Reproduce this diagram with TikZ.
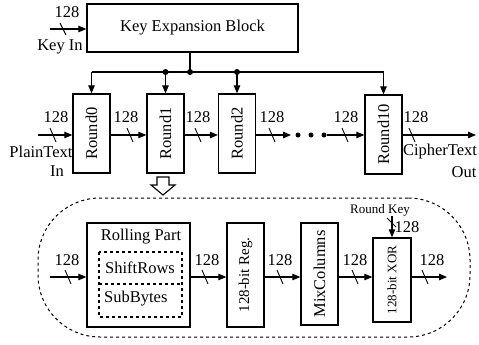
\documentclass[tikz,border=0pt]{standalone}
\usepackage{fontspec}
\setmainfont{Liberation Serif}
\usetikzlibrary{arrows.meta}
\begin{document}
\begin{tikzpicture}[x=1pt,y=-1pt,
  box/.style={draw,line width=1.3pt,inner sep=0pt,font=\fontsize{16.5}{18}\selectfont},
  rbox/.style={box,minimum width=37pt,minimum height=79pt},
  lbl/.style={inner sep=0pt,font=\fontsize{16.5}{18}\selectfont},
  sml/.style={inner sep=0pt,font=\fontsize{13}{15}\selectfont},
  wire/.style={line width=1.1pt},
  arr/.style={wire,-{Triangle[length=8pt,width=6.5pt]}},
  tick/.style={line width=0.9pt},
  dsh/.style={dash pattern=on 3pt off 3pt},
  dot/.style={circle,fill,inner sep=0pt,minimum size=6pt}]
\useasboundingbox (0,0) rectangle (479,345);

% Key expansion
\node[box,minimum width=211pt,minimum height=48pt] (key) at (192.5,28) {Key Expansion Block};
\coordinate (kin) at (50,29);
\draw[arr] (kin) -- (key.west |- kin);
\draw[tick] (60,23) -- (66,35);
\node[lbl] (k128) at (67,12.5) {128};
\node[lbl] (kinl) at (60,47) {Key In};

% rounds
\node[rbox] (r0) at (91.5,133.5) {\rotatebox{90}{Round0}};
\node[rbox] (r1) at (165.5,133.5) {\rotatebox{90}{Round1}};
\node[rbox] (r2) at (237,133.5) {\rotatebox{90}{Round2}};
\node[rbox] (r10) at (383.5,134.5) {\rotatebox{90}{Round10}};

% bus
\coordinate (t) at (190,72);
\coordinate (b0) at (91.5,72);
\coordinate (b10) at (383.5,72);
\draw[wire] (key.south -| t) -- (t);
\draw[wire] (b0) -- (b10);
\draw[arr] (b0) -- (r0.north);
\draw[arr] (r1.north |- t) -- (r1.north);
\draw[arr] (r2.north |- t) -- (r2.north);
\draw[arr] (b10) -- (r10.north);
\node[dot] (d1) at (r1.north |- t) {};
\node[dot] (d2) at (t) {};
\node[dot] (d3) at (r2.north |- t) {};

% main data path
\coordinate (pin) at (38,135);
\draw[arr] (pin) -- (r0.west |- pin);
\draw[tick] (50,128) -- (56,142);
\node[lbl] (p128) at (56,117) {128};
\node[lbl] (pl1) at (41,152) {PlainText};
\node[lbl] (pl2) at (57,171) {In};

\draw[arr] (r0.east |- pin) -- (r1.west |- pin);
\draw[tick] (127,128) -- (133,142);
\node[lbl] (l01) at (126,117) {128};

\draw[arr] (r1.east |- pin) -- (r2.west |- pin);
\draw[tick] (195,128) -- (201,142);
\node[lbl] (l12) at (198,117) {128};

\coordinate (e2) at (291,135);
\draw[arr] (r2.east |- pin) -- (e2);
\draw[tick] (269,128) -- (275,142);
\node[lbl] (l2d) at (272,117) {128};
\node[dot,minimum size=5pt] (dd1) at (298,135) {};
\node[dot,minimum size=5pt] (dd2) at (311,135) {};
\node[dot,minimum size=5pt] (dd3) at (324,135) {};
\draw[arr] (dd3) -- (r10.west |- pin);
\draw[tick] (342,128) -- (348,142);
\node[lbl] (ld10) at (346,117) {128};

\coordinate (pout) at (476,135);
\draw[arr] (r10.east |- pin) -- (pout);
\draw[tick] (409,128) -- (415,142);
\node[lbl] (lout) at (416,117) {128};
\node[lbl] (ct1) at (440,152) {CipherText};
\node[lbl] (ct2) at (464,172) {Out};

% hollow arrow
\draw[line width=1.1pt,line join=miter] (157,177) -- (169,177) -- (169,185) -- (175,185) -- (163,195) -- (151,185) -- (157,185) -- cycle;

% detail loop
\node[draw,line width=1pt,dsh,rounded corners=62pt,minimum width=432pt,minimum height=139pt] (loop) at (254,267.5) {};

\node[box,minimum width=103pt,minimum height=104pt] (roll) at (138.5,275) {};
\node[lbl] (rollt) at (141,237) {Rolling Part};
\draw[line width=1.2pt,dsh] (99,252) rectangle (182,317);
\draw[line width=1.2pt,dsh] (99,284) -- (182,284);
\node[lbl] (sr) at (140,268) {ShiftRows};
\node[lbl,anchor=west] (sb) at (104,299) {SubBytes};

\node[box,minimum width=37pt,minimum height=104pt] (reg) at (245.5,275) {\rotatebox{90}{\fontsize{15}{17}\selectfont 128-bit Reg.}};
\node[box,minimum width=37pt,minimum height=102pt] (mix) at (319.5,274) {\rotatebox{90}{MixColumns}};
\node[box,minimum width=38pt,minimum height=84pt] (xor) at (392,280) {\rotatebox{90}{\fontsize{13}{15}\selectfont 128-bit XOR}};

\coordinate (bin) at (50,277);
\draw[arr] (bin) -- (roll.west |- bin);
\draw[tick] (65,270) -- (71,284);
\node[lbl] (b128) at (67,260) {128};

\draw[arr] (roll.east |- bin) -- (reg.west |- bin);
\draw[tick] (202,270) -- (208,284);
\node[lbl] (l1) at (207,260) {128};

\draw[arr] (reg.east |- bin) -- (mix.west |- bin);
\draw[tick] (277,270) -- (283,284);
\node[lbl] (l2) at (280,260) {128};

\draw[arr] (mix.east |- bin) -- (xor.west |- bin);
\draw[tick] (352,270) -- (358,284);
\node[lbl] (l3) at (355,260) {128};

\coordinate (bout) at (447,277);
\draw[arr] (xor.east |- bin) -- (bout);
\draw[tick] (422,270) -- (428,284);
\node[lbl] (l4) at (432,260) {128};

\node[sml] (rk) at (380,210) {Round Key};
\coordinate (rkin) at (392,216);
\draw[arr] (rkin) -- (xor.north);
\draw[tick] (387,218) -- (396,227);
\node[lbl] (rk128) at (407,227) {128};
\end{tikzpicture}
\end{document}
